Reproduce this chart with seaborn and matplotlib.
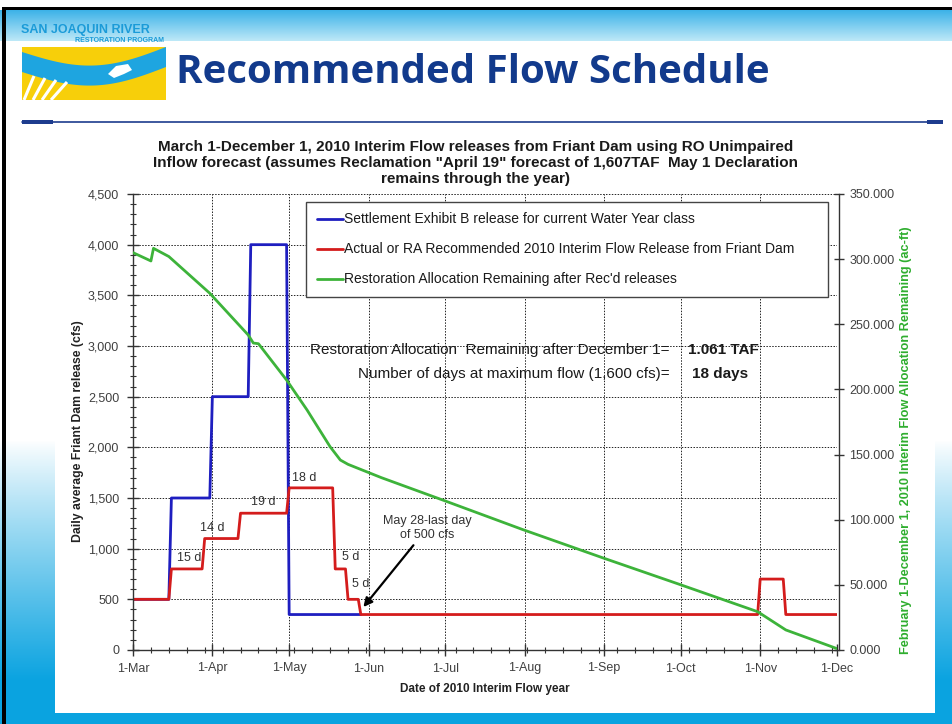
import numpy as np
import pandas as pd
import matplotlib
matplotlib.use("Agg")
import matplotlib.pyplot as plt
import matplotlib.dates as mdates
from matplotlib.patches import Rectangle, Polygon
from matplotlib.ticker import FuncFormatter, MultipleLocator, FixedLocator
import seaborn as sns

# ---- values ----
blue_dates = ["2010-03-01", "2010-03-15", "2010-03-16", "2010-03-31", "2010-04-01",
              "2010-04-15", "2010-04-16", "2010-04-30", "2010-05-01", "2010-05-29"]
blue_cfs = [500, 500, 1500, 1500, 2500, 2500, 4000, 4000, 350, 350]

red_dates = ["2010-03-01", "2010-03-15", "2010-03-16", "2010-03-28", "2010-03-29",
             "2010-04-11", "2010-04-12", "2010-04-30", "2010-05-01", "2010-05-18",
             "2010-05-19", "2010-05-23", "2010-05-24", "2010-05-28", "2010-05-29",
             "2010-10-31", "2010-11-01", "2010-11-10", "2010-11-11", "2010-12-01"]
red_cfs = [500, 500, 800, 800, 1100, 1100, 1350, 1350, 1600, 1600,
           800, 800, 500, 500, 350, 350, 700, 700, 350, 350]

green_dates = ["2010-03-01", "2010-03-08", "2010-03-09", "2010-03-15", "2010-03-31",
               "2010-04-15", "2010-04-17", "2010-04-19", "2010-04-30", "2010-05-08",
               "2010-05-17", "2010-05-21", "2010-05-24", "2010-06-06", "2010-06-30",
               "2010-07-31", "2010-09-01", "2010-09-30", "2010-10-31", "2010-11-11",
               "2010-12-01"]
green_acft = [305000, 298600, 308300, 302000, 273800,
              241800, 235600, 235100, 207200, 184200,
              156000, 145800, 142500, 132300, 115100,
              92600, 70400, 50700, 29400, 15400,
              1061]

series_names = ["Settlement Exhibit B release for current Water Year class",
                "Actual or RA Recommended 2010 Interim Flow Release from Friant Dam",
                "Restoration Allocation Remaining after Rec'd releases"]

step_labels = ["15 d", "14 d", "19 d", "18 d", "5 d", "5 d"]
step_label_dates = ["2010-03-23", "2010-04-01", "2010-04-21", "2010-05-07", "2010-05-25", "2010-05-29"]
step_label_cfs = [905, 1200, 1457, 1694, 921, 651]

chart_title = ("March 1-December 1, 2010 Interim Flow releases from Friant Dam using RO Unimpaired\n"
               "Inflow forecast (assumes Reclamation \"April 19\" forecast of 1,607TAF  May 1 Declaration\n"
               "remains through the year)")

sns.set_style("white")
plt.rcParams["font.family"] = ["Liberation Sans", "DejaVu Sans"]

W, H = 953, 724
fig = plt.figure(figsize=(W / 100, H / 100), dpi=100)


def fx(px):
    return px / W


def fy(py):
    return 1 - py / H


# ---- slide background ----
img = np.ones((H, W, 3))
for r in range(H):
    if 10 <= r < 41:
        t = (r - 10) / 30
        img[r] = np.array([0.24, 0.70, 0.91]) * (1 - t) + np.array([0.74, 0.91, 0.97]) * t
    elif r >= 440:
        t = min((r - 440) / 240, 1) ** 0.9
        img[r] = np.array([1, 1, 1]) * (1 - t) + np.array([0.04, 0.64, 0.88]) * t
img[7:10, 3:] = 0
img[7:, 2:6] = 0

bg = fig.add_axes([0, 0, 1, 1])
bg.imshow(img, aspect="auto", extent=(0, W, H, 0), interpolation="bilinear")
bg.axis("off")

# white chart panel
bg.add_patch(Rectangle((55, 124), 880, 589, facecolor="white", edgecolor="none"))

# logo
bg.add_patch(Rectangle((22, 47), 144, 53, facecolor="#f7cf0a", edgecolor="none"))
u = np.linspace(0, 1, 60)
xs = 22 + 144 * u
centre = 62 + 16 * np.sin(np.pi * u) - 5 * u
top = np.clip(centre - 10, 47, 100)
bot = np.clip(centre + 10, 47, 100)
bg.add_patch(Polygon(np.column_stack([np.r_[xs, xs[::-1]], np.r_[top, bot[::-1]]]),
                     facecolor="#1ea5e0", edgecolor="none"))
for k in range(4):
    bg.plot([24 + k * 9, 34 + k * 11], [100, 76 + k * 2], color="white", lw=2.2, solid_capstyle="butt")
bg.add_patch(Polygon([[108, 74], [116, 66], [128, 64], [132, 70], [124, 74], [114, 78]],
                     facecolor="white", edgecolor="none"))
bg.text(21, 30, "SAN JOAQUIN RIVER", fontsize=9, fontweight="bold", color="#1b9bd8",
        va="center", ha="left")
bg.text(164, 40, "RESTORATION PROGRAM", fontsize=5, fontweight="bold", color="#1b9bd8",
        va="center", ha="right")

# title and rule
bg.text(176, 83, "Recommended Flow Schedule", fontsize=29, fontweight="bold",
        color="#123a8c", va="baseline", ha="left", family="Open Sans")
bg.plot([22, 940], [122, 122], color="#1d3c8e", lw=1.2)
bg.add_patch(Rectangle((22, 120), 31, 4, facecolor="#1d3c8e", edgecolor="none"))
bg.add_patch(Rectangle((927, 120), 16, 4, facecolor="#1d3c8e", edgecolor="none"))
bg.set_xlim(0, W)
bg.set_ylim(H, 0)

# ---- chart ----
ax = fig.add_axes([fx(133), fy(650), 704 / W, 456 / H])
ax.set_facecolor("none")
ax2 = ax.twinx()

blue_c, red_c, green_c = "#1e1ec0", "#d41c1c", "#3db33a"
sns.lineplot(x=pd.to_datetime(blue_dates), y=blue_cfs, ax=ax, color=blue_c, lw=2.0,
             estimator=None, sort=False, label=series_names[0])
sns.lineplot(x=pd.to_datetime(red_dates), y=red_cfs, ax=ax, color=red_c, lw=2.0,
             estimator=None, sort=False, label=series_names[1])
sns.lineplot(x=pd.to_datetime(green_dates), y=green_acft, ax=ax2, color=green_c, lw=2.0,
             estimator=None, sort=False, label=series_names[2])
for a in (ax, ax2):
    if a.get_legend() is not None:
        a.get_legend().remove()

start, end = pd.Timestamp("2010-03-01"), pd.Timestamp("2010-12-01")
ax.set_xlim(start, end)
ax.set_ylim(0, 4500)
ax2.set_ylim(0, 350000)

ax.xaxis.set_major_locator(mdates.MonthLocator())
ax.xaxis.set_major_formatter(mdates.DateFormatter("%-d-%b"))
ax.xaxis.set_minor_locator(FixedLocator(mdates.date2num(pd.date_range(start, end, freq="7D"))))
ax.yaxis.set_major_locator(MultipleLocator(500))
ax.yaxis.set_minor_locator(MultipleLocator(100))
ax.yaxis.set_major_formatter(FuncFormatter(lambda v, p: f"{v:,.0f}"))
ax2.yaxis.set_major_locator(MultipleLocator(50000))
ax2.yaxis.set_major_formatter(FuncFormatter(lambda v, p: f"{v / 1000:.3f}"))

tick_col = "#404040"
ax.tick_params(axis="x", which="major", direction="inout", length=8, width=1, pad=5,
               labelsize=9, labelcolor=tick_col, color="#333333", bottom=True)
ax.tick_params(axis="x", which="minor", direction="inout", length=5, width=0.8,
               color="#333333", bottom=True)
ax.tick_params(axis="y", which="major", direction="inout", length=8, width=1, pad=6,
               labelsize=9, labelcolor=tick_col, color="#333333", left=True)
ax.tick_params(axis="y", which="minor", direction="inout", length=4, width=0.8,
               color="#333333", left=True)
ax2.tick_params(axis="y", which="major", direction="inout", length=7, width=1, pad=4,
                labelsize=9, labelcolor=tick_col, color="#333333", right=True)

ax.grid(True, which="major", color="#222222", linestyle=(0, (1.5, 1.5)), lw=0.7)
ax2.grid(False)
for side in ("top", "right"):
    ax.spines[side].set_visible(False)
for side in ("top", "left", "bottom"):
    ax2.spines[side].set_visible(False)
for s in ("left", "bottom"):
    ax.spines[s].set_color("#333333")
    ax.spines[s].set_linewidth(1)
ax2.spines["right"].set_color("#333333")
ax2.spines["right"].set_linewidth(1)
ax2.spines["right"].set_position(("outward", 1.5))

ax.set_xlabel("Date of 2010 Interim Flow year", fontsize=8.5, fontweight="bold", color="#222222")
ax.xaxis.set_label_coords(0.5, -0.072)
ax.set_ylabel("Daily average Friant Dam release (cfs)", fontsize=8.8, fontweight="bold", color="#222222")
ax.yaxis.set_label_coords((84 - 133) / 704, 0.48)
ax2.set_ylabel("February 1-December 1, 2010 Interim Flow Allocation Remaining (ac-ft)",
               fontsize=9.2, fontweight="bold", color="#2fae2f")
ax2.yaxis.set_label_coords((900 - 133) / 704, 0.46)

# step duration labels
for lab, d, v in zip(step_labels, step_label_dates, step_label_cfs):
    ax.text(mdates.date2num(pd.Timestamp(d)), v, lab, ha="center", va="center",
            fontsize=9, color="#333333")

ax.annotate("May 28-last day\nof 500 cfs",
            xy=(mdates.date2num(pd.Timestamp("2010-05-30")), 424),
            xytext=(mdates.date2num(pd.Timestamp("2010-06-24")), 1204),
            ha="center", va="center", fontsize=9, color="#333333",
            arrowprops=dict(arrowstyle="-|>", color="black", lw=1.6,
                            mutation_scale=13, shrinkA=1, shrinkB=0))

# legend
handles = ax.get_lines()[:2] + ax2.get_lines()[:1]
leg = ax2.legend(handles, series_names, loc="upper left",
                 bbox_to_anchor=(fx(306.5), fy(291), 521 / W, 89 / H),
                 bbox_transform=fig.transFigure, mode="expand", borderaxespad=0,
                 frameon=True, fancybox=False, framealpha=1, edgecolor="#444444",
                 fontsize=10, handlelength=1.9, handletextpad=0.05,
                 labelspacing=1.15, borderpad=0.75)
leg.get_frame().set_linewidth(1.0)
for t in leg.get_texts():
    t.set_color("#1a1a1a")

# chart title and summary text
fig.text(fx(476), fy(163), chart_title, ha="center", va="center", fontsize=11,
         fontweight="bold", color="#1a1a1a", linespacing=1.2)
fig.text(fx(670), fy(350), "Restoration Allocation  Remaining after December 1=",
         ha="right", va="center", fontsize=11, color="#1a1a1a")
fig.text(fx(670), fy(374), "Number of days at maximum flow (1,600 cfs)=",
         ha="right", va="center", fontsize=11, color="#1a1a1a")
fig.text(fx(723), fy(350), "1.061 TAF", ha="center", va="center", fontsize=11,
         fontweight="bold", color="#1a1a1a")
fig.text(fx(720), fy(374), "18 days", ha="center", va="center", fontsize=11,
         fontweight="bold", color="#1a1a1a")

fig.savefig("out.png", dpi=100)
